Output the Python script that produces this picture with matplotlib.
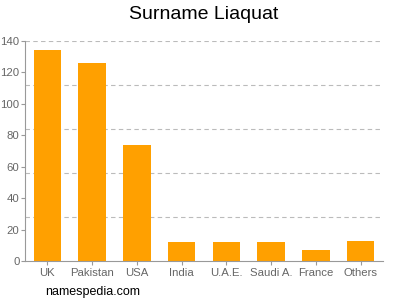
import matplotlib
matplotlib.use("Agg")
import matplotlib.pyplot as plt
import numpy as np

plt.rcParams["font.family"] = ["Liberation Sans", "DejaVu Sans"]

countries = ["UK", "Pakistan", "USA", "India", "U.A.E.", "Saudi A.", "France", "Others"]
counts = [134, 126, 74, 12, 12, 12, 7, 13]
yticks = [0, 20, 40, 60, 80, 100, 120, 140]

fig = plt.figure(figsize=(4, 3), dpi=100)
ax = fig.add_axes([25 / 400, 39 / 300, 358 / 400, 220 / 300])

x = np.arange(len(countries))
ax.bar(x, counts, width=0.62, color="#ffa000", zorder=2)

# grid lines split the range in five, not at the ticks
for g in np.linspace(0, 140, 6)[1:]:
    ax.axhline(g, color="#bbbbbb", linestyle=(0, (4, 3)), linewidth=0.8, zorder=1)

ax.set_xlim(-0.5, len(countries) - 0.5)
ax.set_ylim(0, 140)
ax.set_yticks(yticks)
ax.set_xticks(x)
ax.set_xticklabels(countries)
ax.tick_params(colors="#999999", labelcolor="#666666", labelsize=8.2, length=3, width=0.8, pad=2)
ax.tick_params(axis="y", pad=1)
for s in ["top", "right"]:
    ax.spines[s].set_visible(False)
for s in ["left", "bottom"]:
    ax.spines[s].set_color("#999999")
    ax.spines[s].set_linewidth(0.8)

fig.text(0.51, 0.952, "Surname Liaquat", ha="center", va="center", fontsize=14)
fig.text(0.112, 0.025, "namespedia.com", ha="left", va="center", fontsize=9)

fig.savefig("out.png")
